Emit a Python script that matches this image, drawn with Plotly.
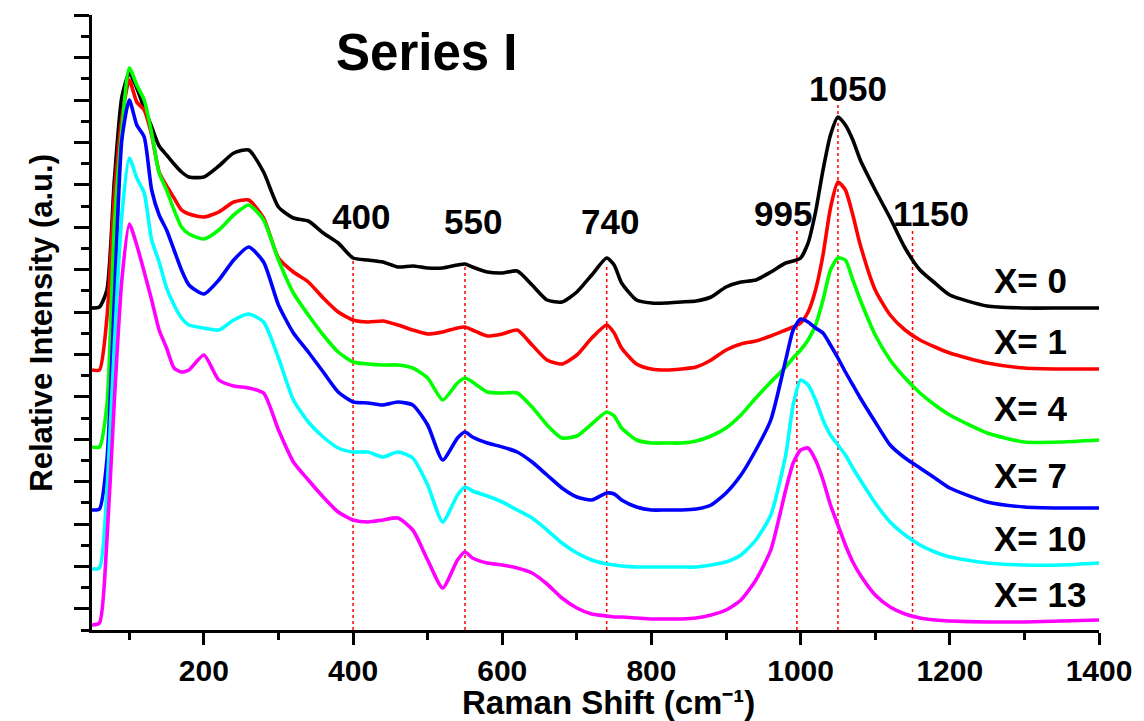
import plotly.graph_objects as go

# Raman shift grid (cm-1) shared by all spectra
shift = [50, 60, 70, 80, 90, 100, 110, 120, 130, 140, 150, 160, 170, 180, 200, 220, 240, 260, 280, 300,
         320, 340, 360, 380, 400, 420, 440, 460, 480, 500, 520, 540, 550, 560, 580, 600, 620, 640, 660, 680,
         700, 720, 740, 750, 760, 780, 800, 820, 840, 860, 880, 900, 920, 940, 960, 980, 990, 1000, 1010, 1020,
         1030, 1040, 1050, 1060, 1070, 1080, 1100, 1120, 1140, 1160, 1180, 1200, 1250, 1300, 1350, 1400]

# Stacked relative intensities (a.u.)
x0 = [322, 323, 340, 450, 533, 557, 542, 522, 503, 484, 475, 466, 458, 453, 453, 464, 477, 480, 458, 423,
      412, 409, 397, 387, 372, 370, 368, 363, 364, 362, 362, 365, 366, 363, 358, 357, 359, 345, 330, 328,
      338, 355, 372, 365, 347, 330, 327, 327, 328, 329, 333, 343, 348, 350, 358, 367, 369, 372, 387, 418,
      460, 495, 513, 505, 490, 470, 440, 412, 382, 360, 347, 335, 324, 322, 322, 322]
x1 = [260, 260, 312, 435, 512, 550, 528, 520, 495, 458, 444, 432, 420, 416, 413, 418, 428, 430, 412, 372,
      358, 348, 332, 318, 310, 308, 309, 305, 300, 296, 298, 302, 303, 300, 294, 296, 300, 285, 270, 266,
      275, 292, 305, 297, 282, 266, 261, 260, 261, 263, 270, 280, 286, 289, 294, 300, 303, 307, 318, 340,
      375, 422, 448, 440, 415, 385, 340, 315, 300, 290, 283, 277, 267, 262, 261, 261]
x4 = [183, 183, 225, 405, 500, 562, 545, 530, 497, 457, 440, 420, 403, 396, 391, 400, 415, 425, 410, 370,
      337, 315, 295, 278, 268, 266, 265, 265, 262, 252, 230, 247, 252, 248, 238, 237, 237, 223, 205, 192,
      194, 206, 218, 214, 202, 190, 187, 187, 187, 189, 194, 202, 215, 232, 248, 263, 272, 280, 290, 305,
      330, 360, 372, 370, 350, 330, 295, 270, 252, 237, 225, 215, 197, 188, 188, 190]
x7 = [120, 121, 170, 330, 490, 530, 505, 493, 440, 415, 400, 380, 360, 345, 336, 350, 370, 383, 368, 325,
      297, 278, 258, 238, 228, 227, 225, 228, 225, 205, 170, 192, 198, 193, 187, 183, 178, 168, 155, 142,
      133, 130, 137, 136, 130, 123, 120, 120, 120, 121, 125, 137, 155, 180, 210, 270, 300, 311, 308, 302,
      297, 285, 272, 258, 245, 232, 208, 185, 172, 162, 152, 142, 128, 123, 122, 122]
x10 = [61, 62, 140, 285, 415, 472, 452, 437, 390, 368, 342, 325, 312, 305, 302, 300, 310, 316, 308, 272,
       230, 208, 193, 182, 178, 178, 173, 178, 172, 145, 108, 135, 143, 139, 134, 128, 120, 112, 100, 87,
       77, 70, 66, 65, 64, 63, 63, 63, 63, 63, 65, 68, 75, 90, 115, 175, 225, 250, 245, 230,
       210, 195, 185, 175, 162, 150, 127, 108, 95, 85, 78, 73, 67, 65, 65, 67]
x13 = [5, 7, 90, 230, 350, 406, 385, 358, 330, 300, 282, 262, 258, 260, 275, 250, 244, 242, 237, 200,
       168, 150, 133, 118, 110, 108, 110, 112, 100, 70, 42, 70, 78, 72, 67, 65, 62, 57, 46, 32,
       22, 16, 14, 13, 13, 12, 11, 11, 11, 12, 15, 20, 30, 50, 80, 140, 167, 180, 182, 170,
       150, 125, 105, 85, 68, 55, 35, 23, 16, 12, 10, 9, 8, 8, 9, 10]

series = [("X= 0", x0, "#000000"), ("X= 1", x1, "#ff0000"), ("X= 4", x4, "#00ff00"),
          ("X= 7", x7, "#0000ff"), ("X= 10", x10, "#00ffff"), ("X= 13", x13, "#ff00ff")]

# Curve labels at the right-hand side (shift, intensity)
label_x = [1257] * 6
label_y = [350, 289, 222, 155, 92, 36]

# Band markers: position, top of the dotted line, label placement
band_pos = [400, 550, 740, 995, 1050, 1150]
band_top = [372, 365, 365, 402, 525, 402]
band_label_x = [410, 561, 745, 977, 1064, 1175]
band_label_y = [414, 409, 409, 417, 542, 417]

FONT = "Liberation Sans, Arial, sans-serif"

fig = go.Figure()
for name, vals, color in series:
    fig.add_trace(go.Scatter(x=shift, y=vals, mode="lines", name=name,
                             line=dict(color=color, width=3.6, shape="spline", smoothing=0.6),
                             showlegend=False))

for pos, top in zip(band_pos, band_top):
    fig.add_shape(type="line", x0=pos, x1=pos, y0=0, y1=top, xref="x", yref="y",
                  line=dict(color="#ff0000", width=1.5, dash="dot"), layer="below")

for pos, lx, ly in zip(band_pos, band_label_x, band_label_y):
    fig.add_annotation(x=lx, y=ly, text=f"<b>{pos}</b>", showarrow=False,
                       font=dict(family=FONT, size=35, color="black"))

for (name, _, _), lx, ly in zip(series, label_x, label_y):
    fig.add_annotation(x=lx, y=ly, text=f"<b>{name}</b>", showarrow=False, xanchor="left",
                       font=dict(family=FONT, size=35, color="black"))

fig.add_annotation(x=498, y=578, text="<b>Series I</b>", showarrow=False,
                   font=dict(family=FONT, size=51, color="black"))

# Axis titles
fig.add_annotation(xref="paper", yref="paper", x=0.513, y=-0.118, yanchor="middle",
                   text="<b>Raman Shift (cm\u207b\u00b9)</b>", showarrow=False,
                   font=dict(family=FONT, size=33, color="black"))
fig.add_annotation(xref="paper", yref="paper", x=-0.0505, y=0.5, xanchor="center", yanchor="middle",
                   textangle=-90, text="<b>Relative Intensity (a.u.)</b>", showarrow=False,
                   font=dict(family=FONT, size=31, color="black"))

fig.update_layout(
    width=1144, height=721,
    margin=dict(l=92, r=45, t=15, b=91, autoexpand=False),
    paper_bgcolor="white", plot_bgcolor="white",
    font=dict(family=FONT, color="black"),
    xaxis=dict(range=[50, 1400], showgrid=False, zeroline=False, automargin=False,
               showline=True, linecolor="black", linewidth=2.5,
               ticks="outside", ticklen=12, tickwidth=2.5, tickcolor="black",
               tick0=0, dtick=200,
               tickfont=dict(family=FONT, size=30, color="black", weight="bold"),
               minor=dict(dtick=100, tick0=0, ticks="outside", ticklen=7, tickwidth=2.5, tickcolor="black")),
    yaxis=dict(range=[0, 615], showgrid=False, zeroline=False, automargin=False,
               showline=True, linecolor="black", linewidth=2.5,
               ticks="outside", ticklen=15, tickwidth=2.5, tickcolor="black",
               tick0=21.2, dtick=42.4, showticklabels=False,
               minor=dict(dtick=21.2, tick0=0, ticks="outside", ticklen=8, tickwidth=2.5, tickcolor="black")),
)

fig.write_html("out.html")
